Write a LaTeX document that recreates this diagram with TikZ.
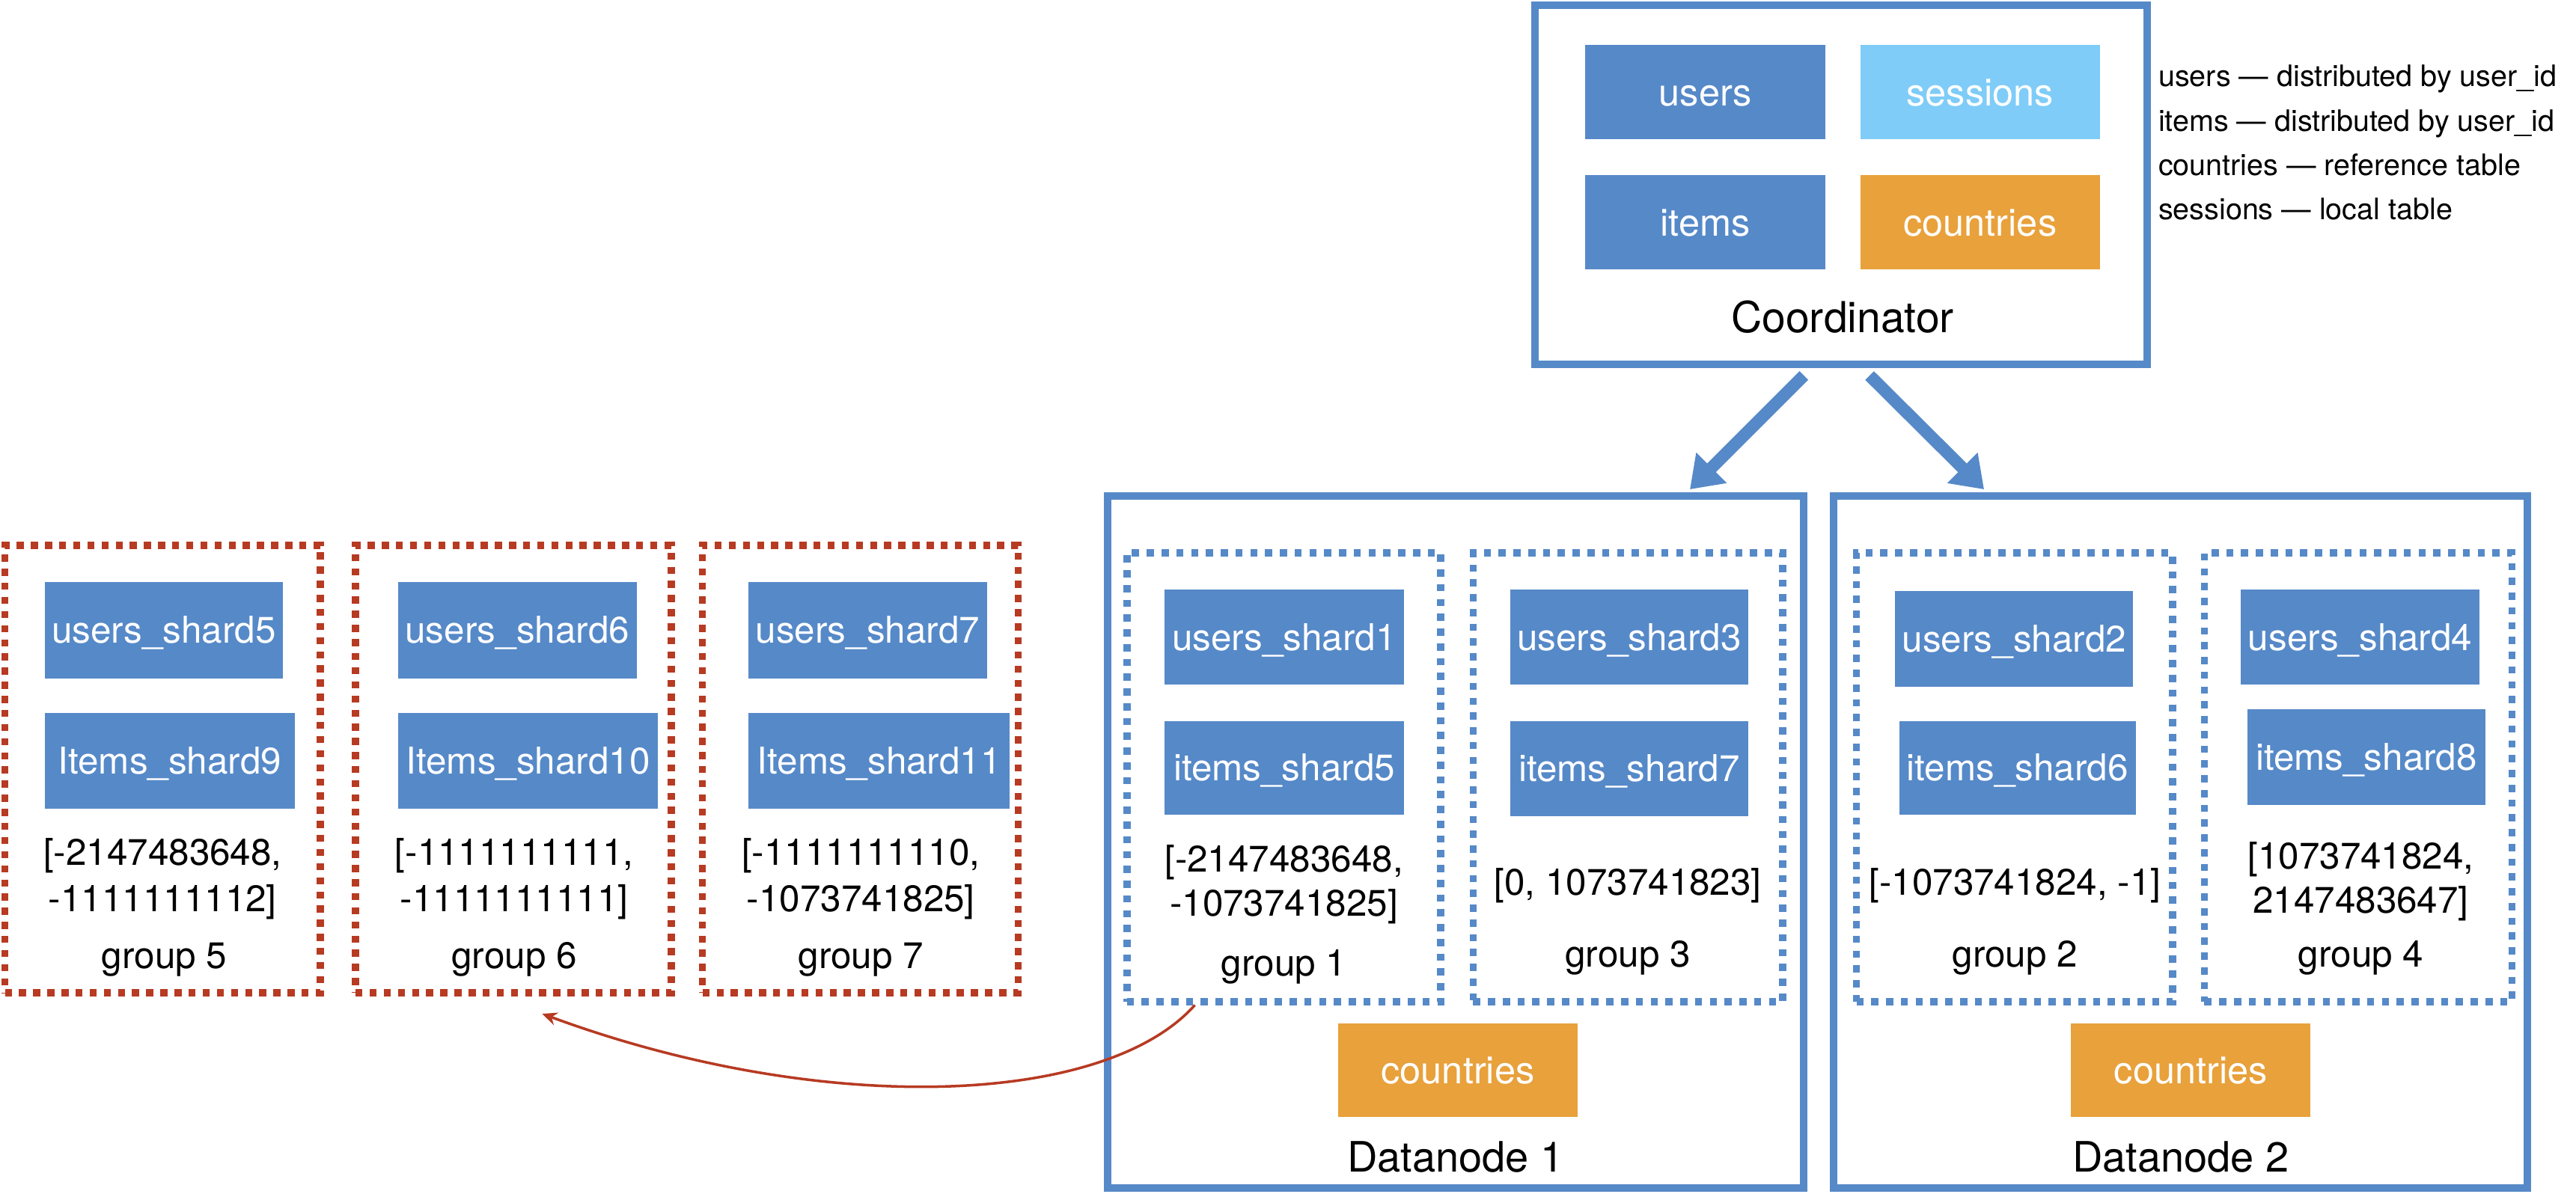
\documentclass[tikz,border=0pt]{standalone}
\usepackage{fontspec}
\setmainfont{TeX Gyre Heros}
\usetikzlibrary{arrows.meta}
\definecolor{cblue}{HTML}{5689C8}
\definecolor{clight}{HTML}{7FCCF8}
\definecolor{corange}{HTML}{E8A13B}
\definecolor{cred}{HTML}{B73A22}
\begin{document}
\begin{tikzpicture}[x=1pt,y=-1pt,
  shard/.style={fill=cblue,text=white,inner sep=0pt,minimum height=58pt,
    font=\fontsize{22.5}{27}\selectfont,text height=16pt,text depth=0pt},
  ctable/.style={inner sep=0pt,text=white,minimum width=146pt,minimum height=57.4pt,
    font=\fontsize{23}{27}\selectfont,text height=16.5pt,text depth=0pt},
  txt/.style={inner sep=0pt,anchor=base,font=\fontsize{22.5}{27}\selectfont},
  big/.style={inner sep=0pt,anchor=base,font=\fontsize{25.5}{30}\selectfont},
  legend/.style={inner sep=0pt,anchor=base west,font=\fontsize{18}{22}\selectfont},
  hostbox/.style={draw=cblue,line width=4.5pt,inner sep=0pt},
  bgroup/.style={draw=cblue,line width=4.4pt,dash pattern=on 4.4pt off 4.6pt,inner sep=0pt,minimum height=273.3pt},
  rgroup/.style={draw=cred,line width=4.4pt,dash pattern=on 4.3pt off 4.3pt,inner sep=0pt,minimum height=272.5pt},
  bigarrow/.style={draw=cblue,line width=7.5pt,-{Triangle[width=25pt,length=18.6pt]}},
]
\useasboundingbox (0,0) rectangle (1568,727);

% Coordinator
\node[hostbox,minimum width=372.5pt,minimum height=218.6pt] (coord) at (1120.75,112.5) {};
\node[ctable,fill=cblue] (cusers) at (1038,56) {users};
\node[ctable,fill=clight] (csessions) at (1205.3,56) {sessions};
\node[ctable,fill=cblue] (citems) at (1038,135.3) {items};
\node[ctable,fill=corange] (ccountries) at (1205.3,135.3) {countries};
\node[big,font=\fontsize{26}{30}\selectfont] (coordlbl) at (1121.6,202.7) {Coordinator};

% Legend
\node[legend] (leg1) at (1313.6,52.8) {users — distributed by user\_id};
\node[legend] (leg2) at (1313.6,80) {items — distributed by user\_id};
\node[legend] (leg3) at (1313.6,107) {countries — reference table};
\node[legend] (leg4) at (1313.6,133.6) {sessions — local table};

% Datanodes
\node[hostbox,minimum width=423.6pt,minimum height=421.5pt] (dn1) at (886.2,512.75) {};
\node[hostbox,minimum width=422.5pt,minimum height=421.5pt] (dn2) at (1327.25,512.75) {};
\node[big] (dn1lbl) at (886,713.4) {Datanode 1};
\node[big] (dn2lbl) at (1327.5,713.4) {Datanode 2};
\node[ctable,fill=corange,minimum width=145.6pt,minimum height=57pt] (dn1c) at (887.4,651.5) {countries};
\node[ctable,fill=corange,minimum width=145.6pt,minimum height=57pt] (dn2c) at (1333.5,651.5) {countries};

% arrows coordinator -> datanodes
\coordinate (a1s) at (1098,228.7);
\coordinate (a1e) at (1028.6,298);
\coordinate (a2s) at (1138,228.7);
\coordinate (a2e) at (1207.7,298);
\draw[bigarrow] (a1s) -- (a1e);
\draw[bigarrow] (a2s) -- (a2e);

% blue groups
\node[bgroup,minimum width=191.1pt] (g1) at (781.45,473.35) {};
\node[bgroup,minimum width=188.3pt] (g3) at (990.85,473.35) {};
\node[bgroup,minimum width=192.3pt] (g2) at (1226.15,473.35) {};
\node[bgroup,minimum width=187.2pt] (g4) at (1435.4,473.35) {};

\node[shard,minimum width=145.5pt] (us1) at (781.75,388) {users\_shard1};
\node[shard,minimum width=145.5pt,minimum height=57pt] (is5) at (781.75,467.5) {items\_shard5};
\node[txt] (r1a) at (781.5,531) {[-2147483648,};
\node[txt] (r1b) at (781.5,558) {-1073741825]};
\node[txt] (g1l) at (781.5,594.4) {group 1};

\node[shard,minimum width=145pt] (us3) at (991.7,388) {users\_shard3};
\node[shard,minimum width=145pt] (is7) at (991.7,468) {items\_shard7};
\node[txt] (r3a) at (990.85,545) {[0, 1073741823]};
\node[txt] (g3l) at (990.85,589) {group 3};

\node[shard,minimum width=145pt] (us2) at (1226,389) {users\_shard2};
\node[shard,minimum width=144pt,minimum height=57pt] (is6) at (1228,467.5) {items\_shard6};
\node[txt] (r2a) at (1226.5,545) {[-1073741824, -1]};
\node[txt] (g2l) at (1226.5,589) {group 2};

\node[shard,minimum width=145.6pt] (us4) at (1436.6,388) {users\_shard4};
\node[shard,minimum width=144.8pt] (is8) at (1440.4,461) {items\_shard8};
\node[txt] (r4a) at (1437,529) {[1073741824,};
\node[txt] (r4b) at (1437,556) {2147483647]};
\node[txt] (g4l) at (1437,589) {group 4};

% red groups
\node[rgroup,minimum width=192pt] (g5) at (99,468.25) {};
\node[rgroup,minimum width=192.1pt] (g6) at (312.45,468.25) {};
\node[rgroup,minimum width=192.1pt] (g7) at (523.65,468.25) {};

\node[shard,minimum width=144.6pt,minimum height=58.6pt] (us5) at (99.7,383.7) {users\_shard5};
\node[shard,minimum width=151.9pt,minimum height=58.5pt] (is9) at (103.35,463.25) {Items\_shard9};
\node[txt] (r5a) at (99,527) {[-2147483648,};
\node[txt] (r5b) at (99,555) {-1111111112]};
\node[txt] (g5l) at (100,589.7) {group 5};

\node[shard,minimum width=145.2pt,minimum height=58.6pt] (us6) at (314.9,383.7) {users\_shard6};
\node[shard,minimum width=158.3pt,minimum height=58.5pt] (is10) at (321.45,463.25) {Items\_shard10};
\node[txt] (r6a) at (313,527) {[-1111111111,};
\node[txt] (r6b) at (313,555) {-1111111111]};
\node[txt] (g6l) at (313,589.7) {group 6};

\node[shard,minimum width=145.1pt,minimum height=58.6pt] (us7) at (528.15,383.7) {users\_shard7};
\node[shard,minimum width=159.1pt,minimum height=58.5pt] (is11) at (535.15,463.25) {Items\_shard11};
\node[txt] (r7a) at (524,527) {[-1111111110,};
\node[txt] (r7b) at (524,555) {-1073741825]};
\node[txt] (g7l) at (524,589.7) {group 7};

% red curved arrow from group 1 to groups 5-7
\coordinate (rs) at (727.3,612);
\coordinate (re) at (330,617.3);
\draw[cred,line width=1.6pt,-{Stealth[length=9pt,width=8pt]}]
  (rs) .. controls (672,674) and (500,680) .. (re);
\end{tikzpicture}
\end{document}
